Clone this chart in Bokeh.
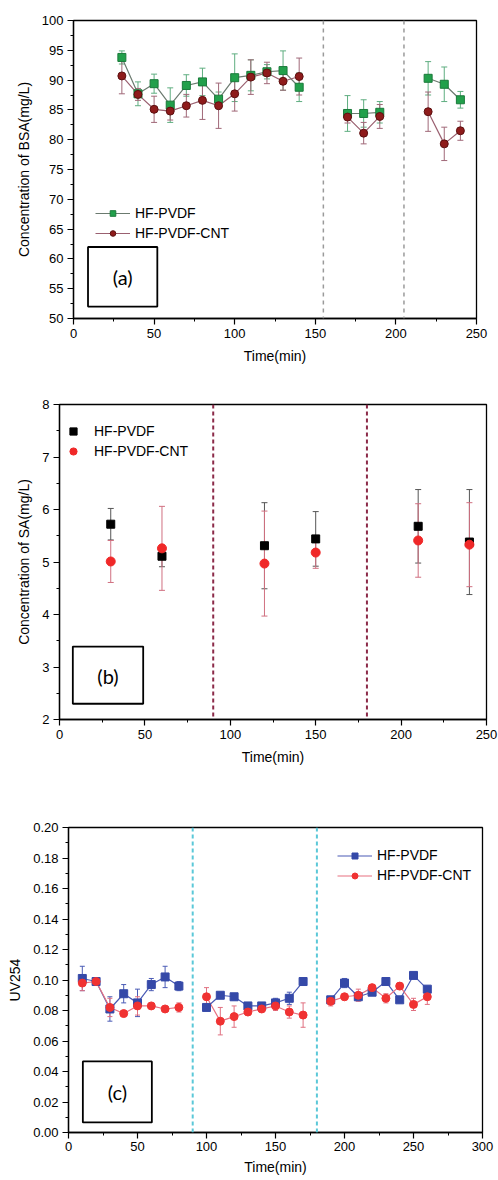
from bokeh.plotting import figure
from bokeh.models import (Range1d, SingleIntervalTicker, Whisker, ColumnDataSource, Span,
                          BoxAnnotation, Label, Legend, LegendItem, TeeHead, PrintfTickFormatter)
from bokeh.embed import file_html
from bokeh.resources import INLINE

# ---------------- data (a) BSA ----------------
bsa_time = [30, 40, 50, 60, 70, 80, 90, 100, 110, 120, 130, 140, 170, 180, 190, 220, 230, 240]
bsa_pvdf = [93.8, 87.7, 89.4, 85.8, 89.1, 89.7, 86.8, 90.4, 90.8, 91.4, 91.6, 88.8, 84.4, 84.4, 84.6, 90.3, 89.3, 86.7]
bsa_pvdf_err = [1.1, 2.0, 1.6, 2.9, 1.8, 2.3, 1.2, 4.0, 2.6, 1.2, 3.3, 2.4, 3.0, 2.3, 1.8, 2.8, 2.9, 1.4]
bsa_cnt = [90.7, 87.6, 85.1, 84.8, 85.7, 86.6, 85.7, 87.7, 90.5, 91.2, 89.8, 90.6, 83.8, 81.1, 83.9, 84.7, 79.3, 81.5]
bsa_cnt_err = [3.0, 1.0, 2.2, 1.5, 1.9, 3.2, 3.8, 2.9, 2.9, 1.8, 1.5, 3.1, 1.0, 1.8, 2.0, 3.3, 2.8, 1.6]
bsa_breaks = [155, 205]

# ---------------- data (b) SA ----------------
sa_time = [30, 60, 120, 150, 210, 240]
sa_pvdf = [5.72, 5.11, 5.31, 5.44, 5.68, 5.38]
sa_pvdf_err = [0.30, 0.20, 0.82, 0.52, 0.70, 1.00]
sa_cnt = [5.01, 5.26, 4.97, 5.18, 5.41, 5.33]
sa_cnt_err = [0.40, 0.80, 1.00, 0.30, 0.70, 0.80]
sa_breaks = [90, 180]

# ---------------- data (c) UV254 ----------------
uv_time = [10, 20, 30, 40, 50, 60, 70, 80,
           100, 110, 120, 130, 140, 150, 160, 170,
           190, 200, 210, 220, 230, 240, 250, 260]
uv_pvdf = [0.101, 0.099, 0.081, 0.091, 0.085, 0.097, 0.102, 0.096,
           0.082, 0.090, 0.089, 0.083, 0.083, 0.085, 0.088, 0.099,
           0.087, 0.098, 0.089, 0.092, 0.099, 0.087, 0.103, 0.094]
uv_pvdf_err = [0.008, 0.001, 0.008, 0.006, 0.009, 0.004, 0.007, 0.003,
               0.002, 0.001, 0.002, 0.002, 0.002, 0.003, 0.004, 0.001,
               0.002, 0.003, 0.002, 0.002, 0.002, 0.002, 0.002, 0.002]
uv_cnt = [0.098, 0.099, 0.082, 0.078, 0.083, 0.083, 0.081, 0.082,
          0.089, 0.073, 0.076, 0.079, 0.081, 0.083, 0.079, 0.077,
          0.086, 0.089, 0.090, 0.095, 0.088, 0.096, 0.084, 0.089]
uv_cnt_err = [0.005, 0.001, 0.006, 0.001, 0.006, 0.001, 0.001, 0.003,
              0.006, 0.009, 0.007, 0.002, 0.002, 0.003, 0.004, 0.008,
              0.003, 0.002, 0.004, 0.002, 0.003, 0.002, 0.004, 0.005]
uv_breaks = [90, 180]

labels = ["HF-PVDF", "HF-PVDF-CNT"]

FONT = "Liberation Sans"


def segments(t, v, gap):
    xs, ys, cx, cy = [], [], [], []
    for i, (a, b) in enumerate(zip(t, v)):
        if i > 0 and a - t[i - 1] > gap:
            xs.append(cx); ys.append(cy); cx, cy = [], []
        cx.append(a); cy.append(b)
    xs.append(cx); ys.append(cy)
    return xs, ys


def make_fig(h, top, bottom, left, right, xr, yr, xint, yint, ylabel):
    p = figure(width=498, height=h, output_backend="svg", toolbar_location=None,
               x_range=Range1d(*xr), y_range=Range1d(*yr),
               min_border_top=top, min_border_bottom=bottom,
               min_border_left=left, min_border_right=right)
    p.xgrid.visible = False
    p.ygrid.visible = False
    p.outline_line_color = "black"
    p.outline_line_width = 1.3
    p.background_fill_color = "white"
    p.border_fill_color = "white"
    p.xaxis.ticker = SingleIntervalTicker(interval=xint, num_minor_ticks=2)
    p.yaxis.ticker = SingleIntervalTicker(interval=yint, num_minor_ticks=2)
    for ax in (p.xaxis[0], p.yaxis[0]):
        ax.axis_line_color = "black"
        ax.axis_line_width = 1.3
        ax.major_tick_line_color = "black"
        ax.minor_tick_line_color = "black"
        ax.major_tick_line_width = 1.2
        ax.major_tick_in = 0
        ax.major_tick_out = 6
        ax.minor_tick_in = 0
        ax.minor_tick_out = 3
        ax.major_label_text_font = FONT
        ax.major_label_text_font_size = "13px"
        ax.major_label_text_color = "black"
        ax.axis_label_text_font = FONT
        ax.axis_label_text_font_size = "14px"
        ax.axis_label_text_font_style = "normal"
        ax.axis_label_text_color = "black"
        ax.major_label_standoff = 4
        ax.axis_label_standoff = 7
    p.xaxis.axis_label = "Time(min)"
    p.yaxis.axis_label = ylabel
    return p


def whisker(p, t, v, e, color, size=6, width=1.0):
    src = ColumnDataSource(dict(x=t, u=[a + b for a, b in zip(v, e)], l=[a - b for a, b in zip(v, e)]))
    w = Whisker(source=src, base="x", upper="u", lower="l", line_color=color, line_width=width,
                upper_head=TeeHead(size=size, line_color=color, line_width=width),
                lower_head=TeeHead(size=size, line_color=color, line_width=width))
    p.add_layout(w)


def tag(p, box, text, tx, ty):
    p.add_layout(BoxAnnotation(left=box[0], right=box[1], bottom=box[2], top=box[3],
                               fill_alpha=0, line_color="black", line_alpha=1.0, line_width=1.8))
    p.add_layout(Label(x=tx, y=ty, text=text, text_font="Lato", text_font_size="20px",
                       text_align="center", text_baseline="middle", text_color="black"))


def style_legend(lg, loc, gw, gh, standoff):
    lg.location = loc
    lg.margin = 0
    lg.padding = 0
    lg.spacing = 0
    lg.border_line_color = None
    lg.background_fill_alpha = 0
    lg.label_text_font = FONT
    lg.label_text_font_size = "14px"
    lg.label_text_color = "black"
    lg.glyph_width = gw
    lg.glyph_height = gh
    lg.label_height = 20
    lg.label_standoff = standoff


# ---------------- panel (a) ----------------
pa = make_fig(384, 20, 66, 73, 22, (0, 250), (50, 100), 50, 5, "Concentration of BSA(mg/L)")
for b in bsa_breaks:
    pa.add_layout(Span(location=b, dimension="height", line_color="#9a9a9a", line_width=1.5, line_dash="4 4"))
whisker(pa, bsa_time, bsa_pvdf, bsa_pvdf_err, "#5fae80")
whisker(pa, bsa_time, bsa_cnt, bsa_cnt_err, "#a06878")
xs, ys = segments(bsa_time, bsa_pvdf, 20)
la = pa.multi_line(xs, ys, line_color="#6b7a6f", line_width=1.2)
xs, ys = segments(bsa_time, bsa_cnt, 20)
lb = pa.multi_line(xs, ys, line_color="#9a6070", line_width=1.2)
sa_ = pa.scatter(bsa_time, bsa_pvdf, marker="square", size=8, fill_color="#22a04b", line_color="#1a7a3a")
sb_ = pa.scatter(bsa_time, bsa_cnt, marker="circle", size=8, fill_color="#8e1b1b", line_color="#5c1010")
lga = Legend(items=[LegendItem(label=labels[0], renderers=[la, sa_]),
                    LegendItem(label=labels[1], renderers=[lb, sb_])])
style_legend(lga, (22, 75), 35, 14, 5)
pa.add_layout(lga)
tag(pa, (9, 52, 52, 62), "(a)", 30.5, 57)

# ---------------- panel (b) ----------------
pb = make_fig(422, 20, 87, 59, 12, (0, 250), (2, 8), 50, 1, "Concentration of SA(mg/L)")
for b in sa_breaks:
    pb.add_layout(Span(location=b, dimension="height", line_color="#8b2a48", line_width=2, line_dash="4 3"))
whisker(pb, sa_time, sa_pvdf, sa_pvdf_err, "#555555")
whisker(pb, sa_time, sa_cnt, sa_cnt_err, "#d07080")
r1 = pb.scatter(sa_time, sa_pvdf, marker="square", size=8, fill_color="black", line_color="black")
r2 = pb.scatter(sa_time, sa_cnt, marker="circle", size=9, fill_color="#f02828", line_color="#f02828")
lgb = Legend(items=[LegendItem(label=labels[0], renderers=[r1]),
                    LegendItem(label=labels[1], renderers=[r2])])
style_legend(lgb, (5, 258), 18, 18, 12)
pb.add_layout(lgb)
tag(pb, (7.8, 49, 2.3, 3.39), "(b)", 28.4, 2.82)

# ---------------- panel (c) ----------------
pc = make_fig(374, 21, 48, 68, 16, (0, 300), (0, 0.2), 50, 0.02, "UV254")
pc.yaxis.formatter = PrintfTickFormatter(format="%.2f")
pc.xaxis.major_label_standoff = 3
pc.xaxis.axis_label_standoff = 5
for b in uv_breaks:
    pc.add_layout(Span(location=b, dimension="height", line_color="#5bc8d8", line_width=2, line_dash="4 3"))
whisker(pc, uv_time, uv_pvdf, uv_pvdf_err, "#4a5bb5", size=5)
whisker(pc, uv_time, uv_cnt, uv_cnt_err, "#e07080", size=5)
xs, ys = segments(uv_time, uv_pvdf, 15)
lc1 = pc.multi_line(xs, ys, line_color="#4a5bb5", line_width=1.2)
xs, ys = segments(uv_time, uv_cnt, 15)
lc2 = pc.multi_line(xs, ys, line_color="#e87080", line_width=1.2)
c1 = pc.scatter(uv_time, uv_pvdf, marker="square", size=8, fill_color="#3549a8", line_color="#3549a8")
c2 = pc.scatter(uv_time, uv_cnt, marker="circle", size=8, fill_color="#f03232", line_color="#f03232")
lgc = Legend(items=[LegendItem(label=labels[0], renderers=[lc1, c1]),
                    LegendItem(label=labels[1], renderers=[lc2, c2])])
style_legend(lgc, (269, 247), 35, 15, 5)
pc.add_layout(lgc)
tag(pc, (10.4, 60.4, 0.0066, 0.0466), "(c)", 35.4, 0.0266)

open("out.html", "w").write(file_html([pa, pb, pc], INLINE))
